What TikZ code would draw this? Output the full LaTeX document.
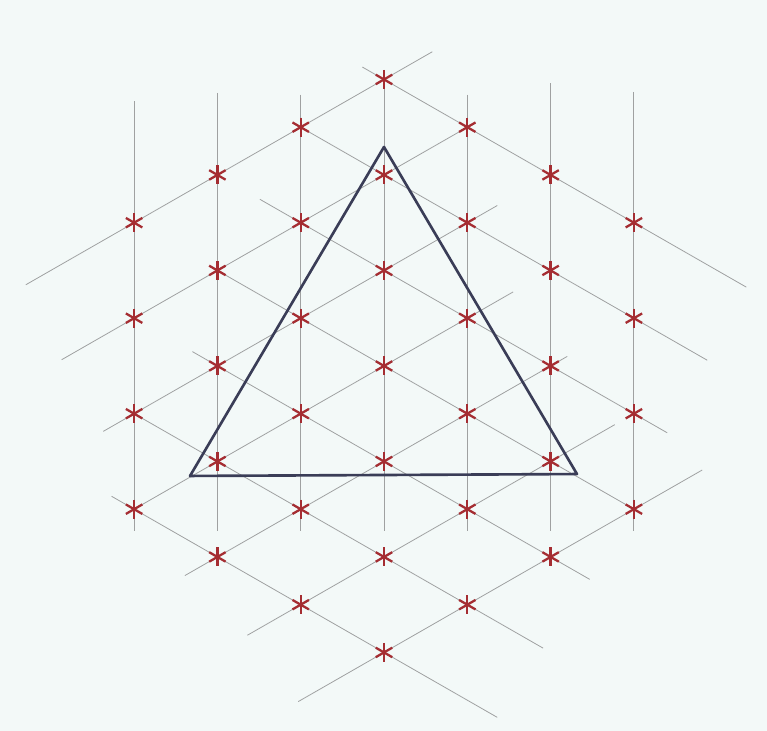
\documentclass[tikz,border=0pt]{standalone}
\usepackage{tikz}
\definecolor{paper}{HTML}{F3F9F8}
\definecolor{gridgray}{HTML}{9FA1A1}
\definecolor{starred}{HTML}{A52D32}
\definecolor{triblue}{HTML}{3A3D57}

\begin{document}
\begin{tikzpicture}[
  x=1.666cm, y=1.91cm,
  gridline/.style={gridgray, line width=0.45pt},
  tri/.style={triblue, line width=1.5pt, line join=round},
  latpt/.style={circle, minimum size=0.42cm, inner sep=0pt, path picture={
      \foreach \a in {90,30,150}
        \draw[starred, line width=1.3pt]
          ([shift={(\a:0.19cm)}]path picture bounding box.center) --
          ([shift={(\a+180:0.19cm)}]path picture bounding box.center);
  }}
]
  \fill[paper] (-4.610,-3.822) rectangle (4.598,3.832);

  \foreach \k/\yt in {-3/2.77, -2/2.86, -1/2.84, 0/3, 1/2.84, 2/2.96, 3/2.87}
    \draw[gridline] (\k,\yt) -- (\k,-1.73);
  \foreach \n/\ks/\ke in {3/-4.3/0.58, 2/-3.87/0.96, 1/-3.37/1.36, 0/-3.05/1.55,
                          -1/-2.39/2.2, -2/-1.64/2.77, -3/-1.03/3.82}
    \draw[gridline] (\ks,{\n+0.5*\ks}) -- (\ke,{\n+0.5*\ke});
  \foreach \m/\ks/\ke in {3/-0.26/4.35, 2/-1/3.88, 1/-1.49/3.4, 0/-2/3.05,
                          -1/-2.3/2.47, -2/-3/1.91, -3/-3.27/1.36}
    \draw[gridline] (\ks,{\m-0.5*\ks}) -- (\ke,{\m-0.5*\ke});

  \coordinate (apex) at (0,2.293);
  \coordinate (lft) at (-2.329,-1.152);
  \coordinate (rgt) at (2.317,-1.132);
  \draw[tri] (apex) -- (lft) -- (rgt) -- cycle;

  \foreach \k in {-3,...,3} {
    \pgfmathtruncatemacro\nlo{max(-3,-3-\k)}
    \pgfmathtruncatemacro\nhi{min(3,3-\k)}
    \foreach \n in {\nlo,...,\nhi}
      \node[latpt] (pt\k n\n) at (\k,{\n+0.5*\k}) {};
  }
\end{tikzpicture}
\end{document}
